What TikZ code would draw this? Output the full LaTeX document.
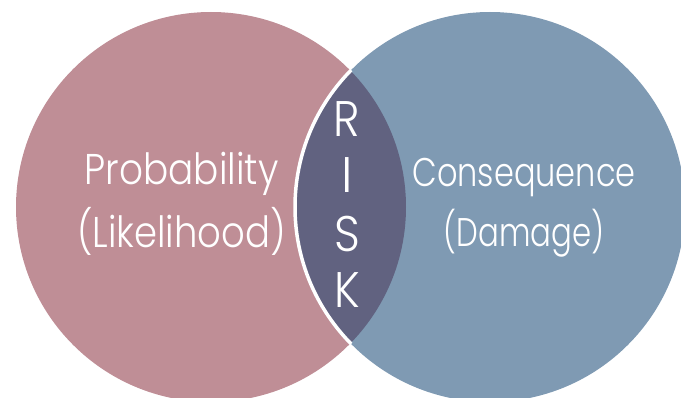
\documentclass[tikz,border=0pt]{standalone}
\usepackage{fontspec}
\setmainfont{Poppins}[UprightFont=* Light]
\definecolor{pinkc}{RGB}{191,142,150}
\definecolor{bluec}{RGB}{127,154,179}
\definecolor{lensc}{RGB}{97,98,128}
\tikzset{
  lbl/.style={text=white, inner sep=0pt, anchor=base, font=\fontsize{43}{43}\selectfont},
  lblr/.style={text=white, inner sep=0pt, anchor=base, font=\fontsize{40}{40}\selectfont},
  risk/.style={text=white, inner sep=0pt, anchor=base, font=\fontsize{50}{50}\selectfont}
}
\begin{document}
\begin{tikzpicture}[x=1pt,y=-1pt]
\useasboundingbox (0,0) rectangle (681,398);
\clip (0,0) rectangle (681,398);
\fill[pinkc] (211,207) circle [radius=195pt];
\fill[bluec] (490,207) circle [radius=195pt];
\begin{scope}
  \clip (211,207) circle [radius=195pt];
  \fill[lensc] (490,207) circle [radius=195pt];
\end{scope}
\begin{scope}
  \clip (211,207) circle [radius=196pt];
  \draw[white, line width=3.5pt] (490,207) circle [radius=195pt];
\end{scope}
\node[lbl, xscale=0.87] (prob) at (181.5,185) {Probability};
\node[lbl, xscale=0.86] (like) at (181.5,248) {(Likelihood)};
\node[lblr, xscale=0.80] (cons) at (524,187) {Consequence};
\node[lblr, xscale=0.77] (dam) at (524,247) {(Damage)};
\node[risk, xscale=0.9] (r) at (347,137) {R};
\node[risk] (i) at (347,193) {I};
\node[risk, xscale=0.9] (s) at (347,252) {S};
\node[risk, xscale=0.9] (k) at (347,308) {K};
\end{tikzpicture}
\end{document}
